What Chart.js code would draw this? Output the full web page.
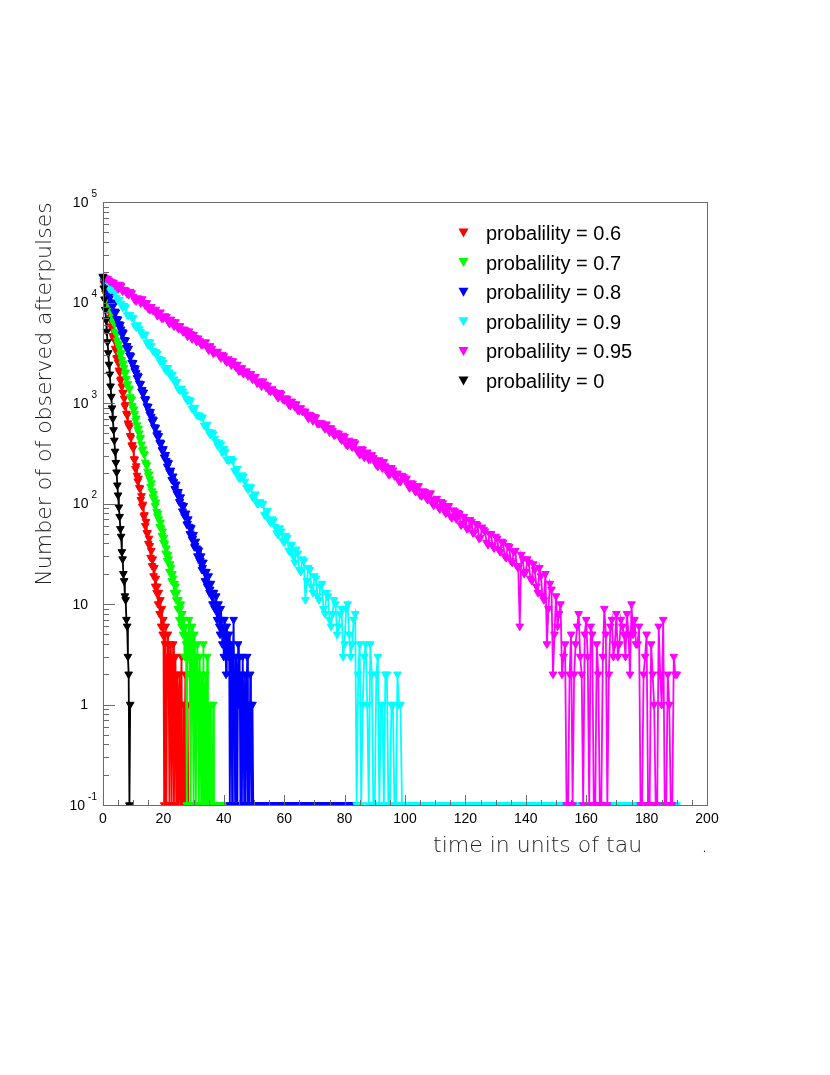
<!DOCTYPE html>
<html>
<head>
<meta charset="utf-8">
<script src="https://cdn.jsdelivr.net/npm/chart.js@4.4.0/dist/chart.umd.min.js"></script>
<style>
  html, body { margin: 0; padding: 0; background: #fff; }
  #wrap { width: 830px; height: 1075px; }
</style>
</head>
<body>
<div id="wrap"><canvas id="chart" width="830" height="1075"></canvas></div>
<script>
// Courbes : nombre d'afterpulses observés en fonction du temps (unités de tau)
const seriesLabels = ['probalility = 0.6', 'probalility = 0.7', 'probalility = 0.8',
                      'probalility = 0.9', 'probalility = 0.95', 'probalility = 0'];
const seriesColors = ['#ff0000', '#00ff00', '#0000ff', '#00ffff', '#ff00ff', '#000000'];

// largeur des pas en temps pour chaque série
const binWidths = [0.25, 0.25, 0.25, 0.5, 0.5, 0.25];

const countsP06 = [17800, 15640, 15030, 12410, 12780, 10810, 9390, 9390, 8170, 6880,
  7080, 5810, 5580, 4660, 4440, 4260, 3490, 3360, 2800, 2820,
  2530, 2120, 2030, 1680, 1730, 1460, 1270, 1270, 1110, 932,
  959, 787, 756, 631, 601, 577, 472, 454, 379, 382,
  356, 277, 275, 222, 236, 190, 167, 177, 144, 142,
  109, 119, 94, 98, 75, 77, 60, 66, 51, 51,
  40, 45, 38, 29, 34, 24, 28, 19, 23, 15,
  18, 13, 15, 10, 13, 8, 11, 6, 9, 5,
  7, 0, 4, 6, 0, 3, 5, 2, 0, 4,
  3, 0, 2, 4, 0, 1, 3, 0, 2, 1,
  0, 2, 0, 1, 3, 0, 0, 1, 0, 2,
  0, 0, 1, 0, 0, 0, 0];

const countsP07 = [17900, 17370, 15640, 13510, 14140, 12120, 10910, 11180, 10080, 8800,
  9100, 7810, 6810, 6990, 6300, 6200, 5150, 4930, 4860, 4200,
  3900, 3880, 3490, 3020, 3150, 2700, 2430, 2490, 2250, 1960,
  2030, 1740, 1520, 1560, 1406, 1380, 1150, 1100, 1083, 937,
  869, 864, 779, 672, 704, 604, 543, 557, 502, 438,
  453, 389, 339, 348, 314, 308, 257, 245, 241, 209,
  190, 196, 175, 147, 160, 133, 116, 126, 111, 95,
  103, 83, 75, 80, 70, 59, 65, 57, 48, 53,
  41, 46, 40, 32, 36, 27, 31, 28, 21, 25,
  23, 17, 20, 18, 13, 16, 15, 11, 13, 9,
  11, 7, 9, 10, 6, 8, 5, 7, 3, 6,
  4, 0, 5, 3, 7, 2, 0, 4, 6, 1,
  0, 5, 3, 0, 2, 4, 1, 0, 3, 1,
  0, 2, 0, 4, 0, 1, 2, 0, 3, 0,
  1, 0, 1, 0, 0, 0, 1, 0, 0, 0,
  0, 0, 0, 0, 0, 0, 0, 0, 0, 0,
  0, 0, 0, 0, 0, 0, 0, 0, 0];

const countsP08 = [18100, 16610, 15480, 16430, 14740, 13180, 13870, 13580, 11580, 11360,
  11470, 9660, 10080, 9210, 9480, 8080, 8170, 8000, 6880, 6750,
  6820, 6110, 5690, 6040, 5420, 4850, 5100, 4990, 4260, 4180,
  4220, 3550, 3710, 3390, 3490, 2970, 3000, 2940, 2530, 2480,
  2510, 2250, 2090, 2220, 1995, 1780, 1880, 1840, 1570, 1540,
  1550, 1310, 1360, 1250, 1280, 1090, 1105, 1085, 932, 915,
  923, 826, 770, 817, 734, 656, 691, 676, 577, 566,
  571, 481, 502, 459, 472, 402, 407, 398, 342, 336,
  350, 289, 286, 306, 267, 234, 256, 253, 208, 204,
  214, 173, 170, 187, 164, 140, 155, 155, 125, 122,
  131, 104, 105, 116, 97, 84, 95, 95, 75, 75,
  80, 62, 63, 70, 59, 50, 58, 57, 44, 45,
  49, 37, 38, 42, 36, 30, 35, 34, 27, 27,
  30, 22, 23, 26, 21, 17, 21, 21, 15, 16,
  19, 13, 14, 16, 12, 10, 13, 13, 9, 9,
  12, 7, 8, 10, 6, 5, 9, 7, 4, 6,
  3, 7, 5, 2, 6, 4, 3, 5, 0, 2,
  4, 0, 3, 7, 1, 0, 3, 2, 0, 4,
  1, 3, 0, 2, 0, 3, 1, 0, 2, 0,
  1, 3, 0, 1, 0, 2, 1, 0, 1, 0,
  0, 0, 0, 0, 0, 0, 0, 0, 0, 0,
  0, 0, 0, 0, 0, 0, 0, 0, 0, 0,
  0, 0, 0, 0, 0, 0, 0, 0, 0, 0,
  0, 0, 0, 0, 0, 0, 0, 0, 0, 0,
  0, 0, 0, 0, 0, 0, 0, 0, 0, 0,
  0, 0, 0, 0, 0, 0, 0, 0, 0, 0,
  0, 0, 0, 0, 0, 0, 0, 0, 0, 0,
  0, 0, 0, 0, 0, 0, 0, 0, 0, 0,
  0, 0, 0, 0, 0, 0, 0, 0, 0, 0,
  0, 0, 0, 0, 0, 0, 0, 0, 0, 0,
  0, 0, 0, 0, 0, 0, 0, 0, 0, 0,
  0, 0, 0, 0, 0, 0, 0, 0, 0, 0,
  0, 0, 0, 0, 0, 0, 0, 0, 0, 0,
  0, 0, 0, 0, 0, 0, 0];

const countsP09 = [17900, 16610, 17100, 16120, 13860, 13460, 13610, 13320, 12900, 11240,
  10480, 10700, 9780, 8930, 9300, 9010, 7520, 7460, 7540, 7100,
  7020, 5920, 5690, 5980, 5470, 5100, 4760, 4850, 4800, 4010,
  3770, 4050, 3710, 3320, 3220, 3220, 3120, 2770, 2560, 2690,
  2530, 2180, 2090, 2240, 2030, 1840, 1930, 1730, 1580, 1630,
  1370, 1340, 1400, 1310, 1220, 1105, 1050, 1084, 1050, 877,
  887, 903, 762, 748, 756, 726, 717, 600, 589, 612,
  517, 486, 512, 491, 445, 410, 375, 406, 386, 322,
  353, 330, 274, 269, 278, 278, 268, 213, 210, 223,
  180, 179, 192, 187, 166, 145, 138, 148, 145, 116,
  117, 124, 100, 100, 104, 100, 100, 77, 78, 85,
  68, 65, 70, 68, 59, 51, 49, 57, 53, 43,
  41, 48, 46, 34, 33, 39, 30, 26, 35, 32,
  22, 21, 28, 27, 11, 17, 23, 22, 15, 13,
  19, 18, 12, 11, 15, 16, 9, 8, 13, 12,
  7, 6, 8, 11, 10, 5, 6, 8, 9, 3,
  4, 9, 10, 5, 3, 4, 7, 8, 0, 2,
  4, 0, 1, 3, 4, 1, 0, 4, 2, 0,
  0, 2, 3, 0, 1, 1, 0, 2, 2, 0,
  0, 1, 1, 0, 0, 2, 1, 1, 0, 0,
  0, 0, 0, 0, 0, 0, 0, 0, 0, 0,
  0, 0, 0, 0, 0, 0, 0, 0, 0, 0,
  0, 0, 0, 0, 0, 0, 0, 0, 0, 0,
  0, 0, 0, 0, 0, 0, 0, 0, 0, 0,
  0, 0, 0, 0, 0, 0, 0, 0, 0, 0,
  0, 0, 0, 0, 0, 0, 0, 0, 0, 0,
  0, 0, 0, 0, 0, 0, 0, 0, 0, 0,
  0, 0, 0, 0, 0, 0, 0, 0, 0, 0,
  0, 0, 0, 0, 0, 0, 0, 0, 0, 0,
  0, 0, 0, 0, 0, 0, 0, 0, 0, 0,
  0, 0, 0, 0, 0, 0, 0, 0, 0, 0,
  0, 0, 0, 0, 0, 0, 0, 0, 0, 0,
  0, 0, 0, 0, 0, 0, 0, 0, 0, 0,
  0, 0, 0, 0, 0, 0, 0, 0, 0, 0,
  0, 0, 0, 0, 0, 0, 0, 0, 0, 0,
  0, 0, 0, 0, 0, 0, 0, 0, 0, 0,
  0, 0, 0, 0, 0, 0, 0, 0, 0, 0,
  0, 0, 0, 0, 0, 0, 0, 0, 0, 0,
  0];

const countsP095 = [18200, 17710, 17350, 17300, 16640, 16200, 15900, 15850, 14870, 14820,
  13610, 15150, 14650, 12950, 13440, 13260, 12190, 12040, 12850, 12430,
  11440, 10610, 10370, 11090, 10840, 9870, 10840, 9910, 9390, 9920,
  8680, 8480, 9070, 8350, 8320, 8540, 7380, 7920, 8020, 6950,
  7010, 7340, 7240, 6530, 6180, 6810, 6400, 5820, 6410, 5790,
  5480, 5860, 5400, 5110, 5410, 5230, 4610, 5190, 4880, 4350,
  4790, 4460, 4090, 4420, 4150, 3820, 3810, 3990, 4040, 3550,
  3360, 3700, 3480, 3130, 3190, 3240, 3260, 2970, 2810, 3030,
  2940, 2650, 2560, 2740, 2620, 2380, 2620, 2420, 2270, 2420,
  2080, 2110, 2240, 1960, 2050, 2080, 1860, 1930, 1960, 1720,
  1750, 1830, 1580, 1610, 1650, 1470, 1650, 1540, 1430, 1500,
  1330, 1310, 1380, 1310, 1270, 1180, 1130, 1270, 1230, 1095,
  1070, 1120, 1100, 966, 944, 1040, 977, 917, 978, 848,
  837, 895, 824, 829, 826, 745, 704, 769, 745, 664,
  730, 720, 625, 623, 633, 630, 581, 556, 617, 564,
  512, 564, 530, 478, 486, 503, 497, 448, 428, 476,
  461, 387, 378, 425, 404, 364, 411, 398, 339, 325,
  306, 349, 345, 288, 313, 324, 275, 277, 305, 286,
  261, 242, 234, 271, 257, 225, 260, 236, 214, 196,
  196, 227, 215, 188, 192, 200, 167, 165, 190, 184,
  171, 178,
  152, 143, 160, 158, 139, 131, 146, 150, 121, 119,
  133, 131, 114, 109, 124, 127, 101, 96, 109, 112,
  93, 88, 104, 101, 85, 80, 92, 95, 75, 72,
  86, 84, 70, 81, 79, 61, 63, 74, 68, 56,
  57, 69, 66, 51, 52, 63, 61, 45, 46, 58,
  55, 53, 41, 39, 50, 50, 38, 36, 47, 45,
  35, 33, 42, 41, 30, 29, 38, 37, 27, 26,
  33, 34, 24, 23, 6, 31, 28, 20, 21, 28,
  26, 18, 17, 25, 22, 15, 13, 23, 19, 12,
  11, 20, 4, 9, 16, 14, 2, 5,
  12, 6, 8, 10, 2, 3, 4, 0, 0, 2,
  5, 0, 2, 4, 6, 8, 3, 2, 0, 5,
  7, 3, 0, 6, 5, 0, 0, 4, 2, 0,
  0, 3, 9, 5, 0, 2, 6, 7, 3, 4,
  8, 3, 4, 7, 6, 5, 3, 8, 5, 2,
  10, 5, 7, 4, 4, 6, 0, 0, 2, 3,
  5, 0, 0, 4, 2, 1, 0, 0, 6, 2,
  1, 7, 0, 0, 2, 1, 0, 0, 3, 2,
  2];

const countsP0 = [18000, 13900, 10800, 8500, 6700, 5150, 4050, 3150, 2420, 1930,
  1470, 1160, 890, 700, 540, 425, 330, 255, 205, 152,
  121, 92, 74, 56, 47, 33, 28, 20, 17, 12,
  11, 7, 6, 3, 2, 0, 1];

const allCounts = [countsP06, countsP07, countsP08, countsP09, countsP095, countsP0];

// axes
const X_MIN = 0, X_MAX = 200;
const Y_MIN = 0.1, Y_MAX = 100000;
const xTickLabels = [0, 20, 40, 60, 80, 100, 120, 140, 160, 180, 200];
const yDecades = [-1, 0, 1, 2, 3, 4, 5];

const xTitle = 'time in units of tau';
const yTitle = 'Number of of observed afterpulses';

const LABEL_FONT = '"Liberation Sans", Arial, Helvetica, sans-serif';
const TITLE_FONT = '"DejaVu Sans", "Liberation Sans", sans-serif';

function buildDatasets() {
  return allCounts.map((counts, i) => {
    const pts = counts.map((c, k) => ({ x: k * binWidths[i], y: c > 0 ? c : Y_MIN }));
    return {
      label: seriesLabels[i],
      data: pts,
      borderColor: seriesColors[i],
      backgroundColor: seriesColors[i],
      borderWidth: 1.8,
      pointStyle: 'triangle',
      rotation: 180,
      pointRadius: 4.4,
      pointBorderWidth: 1,
      pointBackgroundColor: seriesColors[i],
      pointBorderColor: seriesColors[i],
      tension: 0,
      order: allCounts.length - i,
      clip: { left: 5, top: 0, right: 0, bottom: 0 }
    };
  });
}

// cadre, graduations, étiquettes, titres et légende
const frameAndLabels = {
  id: 'frameAndLabels',
  afterDraw(chart) {
    const ctx = chart.ctx;
    const a = chart.chartArea;
    const xs = chart.scales.x;
    const ys = chart.scales.y;
    ctx.save();

    ctx.strokeStyle = '#6a6a6a';
    ctx.lineWidth = 1;
    ctx.strokeRect(Math.round(a.left) + 0.5, Math.round(a.top) + 0.5,
                   Math.round(a.right - a.left), Math.round(a.bottom - a.top));

    ctx.beginPath();
    for (let v = X_MIN; v <= X_MAX; v += 5) {
      const px = Math.round(xs.getPixelForValue(v)) + 0.5;
      const len = v % 20 === 0 ? 10 : 5;
      ctx.moveTo(px, a.bottom);
      ctx.lineTo(px, a.bottom - len);
    }
    yDecades.forEach(d => {
      for (let m = 1; m <= 9; m++) {
        const v = m * Math.pow(10, d);
        if (v > Y_MAX * 1.0001) break;
        const py = Math.round(ys.getPixelForValue(v)) + 0.5;
        const len = m === 1 ? 12 : 6;
        ctx.moveTo(a.left, py);
        ctx.lineTo(a.left + len, py);
      }
    });
    ctx.stroke();

    // étiquettes x
    ctx.fillStyle = '#000';
    ctx.font = '14px ' + LABEL_FONT;
    ctx.textAlign = 'center';
    ctx.textBaseline = 'top';
    xTickLabels.forEach(v => {
      ctx.fillText(String(v), xs.getPixelForValue(v), a.bottom + 7);
    });

    // étiquettes y (10 avec exposant)
    yDecades.forEach(d => {
      const py = ys.getPixelForValue(Math.pow(10, d));
      ctx.textBaseline = 'middle';
      if (d === 0 || d === 1) {
        ctx.font = '14px ' + LABEL_FONT;
        ctx.textAlign = 'right';
        ctx.fillText(d === 0 ? '1' : '10', 88, py + 1);
      } else {
        const expo = String(d);
        ctx.font = '10px ' + LABEL_FONT;
        const ew = ctx.measureText(expo).width;
        ctx.textAlign = 'right';
        ctx.fillText(expo, 97, py - 8);
        ctx.font = '14px ' + LABEL_FONT;
        ctx.fillText('10', 97 - ew - 3, py + 1);
      }
    });

    // titres des axes
    ctx.fillStyle = '#222';
    ctx.font = '200 22px ' + TITLE_FONT;
    ctx.textAlign = 'left';
    ctx.textBaseline = 'alphabetic';
    ctx.fillText(xTitle, 433, 852);
    ctx.fillText('.', 701, 852);

    ctx.save();
    ctx.translate(51, 394);
    ctx.rotate(-Math.PI / 2);
    ctx.textAlign = 'center';
    ctx.fillText(yTitle, 0, 0);
    ctx.restore();

    // légende
    ctx.font = '20px ' + LABEL_FONT;
    ctx.textAlign = 'left';
    ctx.textBaseline = 'alphabetic';
    seriesLabels.forEach((lab, i) => {
      const ry = 233 + i * 29.6;
      ctx.fillStyle = seriesColors[i];
      ctx.beginPath();
      ctx.moveTo(458.5, ry - 4.5);
      ctx.lineTo(468.5, ry - 4.5);
      ctx.lineTo(463.5, ry + 4.5);
      ctx.closePath();
      ctx.fill();
      ctx.fillStyle = '#000';
      ctx.fillText(lab, 486, ry + 7);
    });

    ctx.restore();
  }
};

new Chart(document.getElementById('chart').getContext('2d'), {
  type: 'line',
  data: { datasets: buildDatasets() },
  options: {
    responsive: false,
    animation: false,
    devicePixelRatio: 1,
    layout: { padding: { left: 103, top: 202, right: 123, bottom: 270 } },
    plugins: {
      legend: { display: false },
      tooltip: { enabled: false }
    },
    scales: {
      x: { type: 'linear', min: X_MIN, max: X_MAX, display: false },
      y: { type: 'logarithmic', min: Y_MIN, max: Y_MAX, display: false }
    }
  },
  plugins: [frameAndLabels]
});
</script>
</body>
</html>
